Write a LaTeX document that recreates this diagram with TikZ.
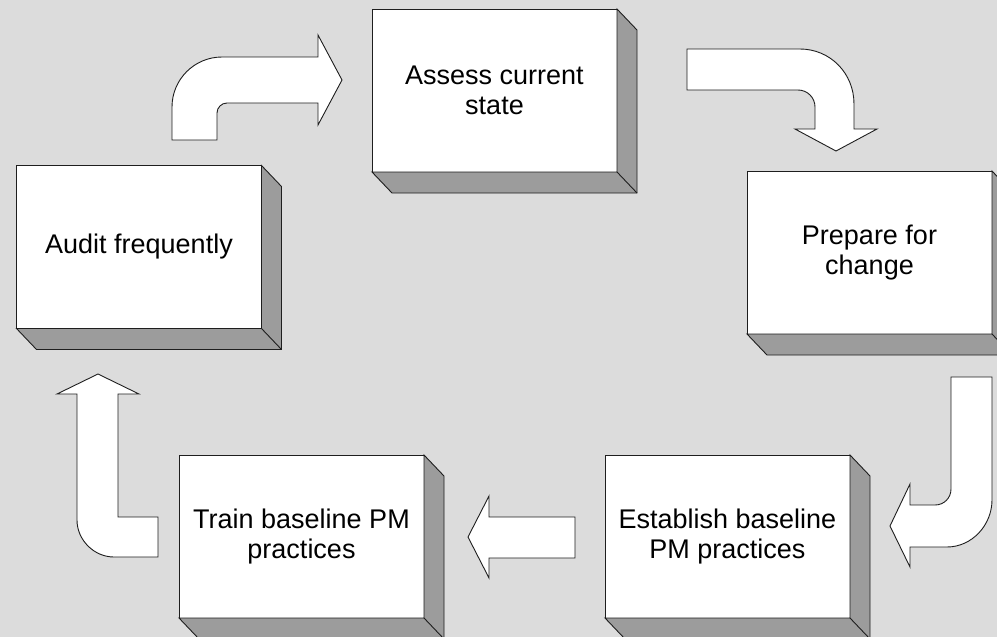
\documentclass[tikz,border=0pt]{standalone}
\usepackage{fontspec}
\setmainfont{Liberation Sans}
\usetikzlibrary{calc}
\definecolor{bggray}{RGB}{220,220,220}
\definecolor{sidegray}{RGB}{156,156,156}
\definecolor{edge}{RGB}{30,30,30}
\tikzset{
  face/.style={draw=edge, fill=white, line width=0.9pt, inner sep=0pt, outer sep=0pt,
    minimum width=245, minimum height=163, align=center,
    font=\fontsize{27}{30}\selectfont},
  depthface/.style={draw=edge, fill=sidegray, line width=0.9pt, line join=miter},
  blockarrow/.style={draw=edge, fill=white, line width=0.9pt, line join=miter}
}
\begin{document}
\begin{tikzpicture}[x=1pt, y=-1pt]
\fill[bggray] (0,0) rectangle (997,637);
\useasboundingbox (0,0) rectangle (997,637);
\clip (0,0) rectangle (997,637);

% boxes (front faces)
\node[face] (audit)     at (139,247)   {Audit frequently};
\node[face] (assess)    at (494.5,90.5) {Assess current\\state};
\node[face] (prepare)   at (869.5,252.5) {Prepare for\\change};
\node[face] (establish) at (727.5,536.5) {Establish baseline\\PM practices};
\node[face] (train)     at (301.5,536.5) {Train baseline PM\\practices};

% depth faces
\foreach \n in {audit,assess,prepare,establish,train}{
  \filldraw[depthface] (\n.south west) -- ($(\n.south west)+(20,21)$)
     -- ($(\n.south east)+(20,21)$) -- ($(\n.north east)+(20,21)$)
     -- (\n.north east) -- (\n.south east) -- cycle;
  \draw[depthface, fill=none] (\n.south east) -- ($(\n.south east)+(20,21)$);
}

% arrow: Audit -> Assess
\filldraw[blockarrow] (172,140) -- (172,107) .. controls (172,79.4) and (194.4,57) .. (222,57)
  -- (318,57) -- (318,35) -- (342,80) -- (318,125) -- (318,103) -- (227,103)
  .. controls (221.5,103) and (217,107.5) .. (217,113) -- (217,140) -- cycle;

% arrow: Assess -> Prepare
\filldraw[blockarrow] (687,49) -- (800,49) .. controls (830,49) and (854,73) .. (854,104)
  -- (854,129) -- (877,129) -- (836,151) -- (795,129) -- (815,129) -- (815,107)
  .. controls (815,97.6) and (807.4,90) .. (798,90) -- (687,90) -- cycle;

% arrow: Prepare -> Establish
\filldraw[blockarrow] (951,377) -- (992,377) -- (992,500) .. controls (992,525) and (972,547) .. (947,547)
  -- (910,547) -- (910,567) -- (890,526) -- (910,484) -- (910,505) -- (935,505)
  .. controls (944,505) and (951,498) .. (951,489) -- cycle;

% arrow: Establish -> Train
\filldraw[blockarrow] (575,517) -- (489,517) -- (489,496) -- (468,537) -- (489,578)
  -- (489,558) -- (575,558) -- cycle;

% arrow: Train -> Audit
\filldraw[blockarrow] (98,374) -- (139,394) -- (118,394) -- (118,517) -- (158,517)
  -- (158,557) -- (114,557) .. controls (94,557) and (77,540) .. (77,520)
  -- (77,394) -- (57,394) -- cycle;
\end{tikzpicture}
\end{document}
